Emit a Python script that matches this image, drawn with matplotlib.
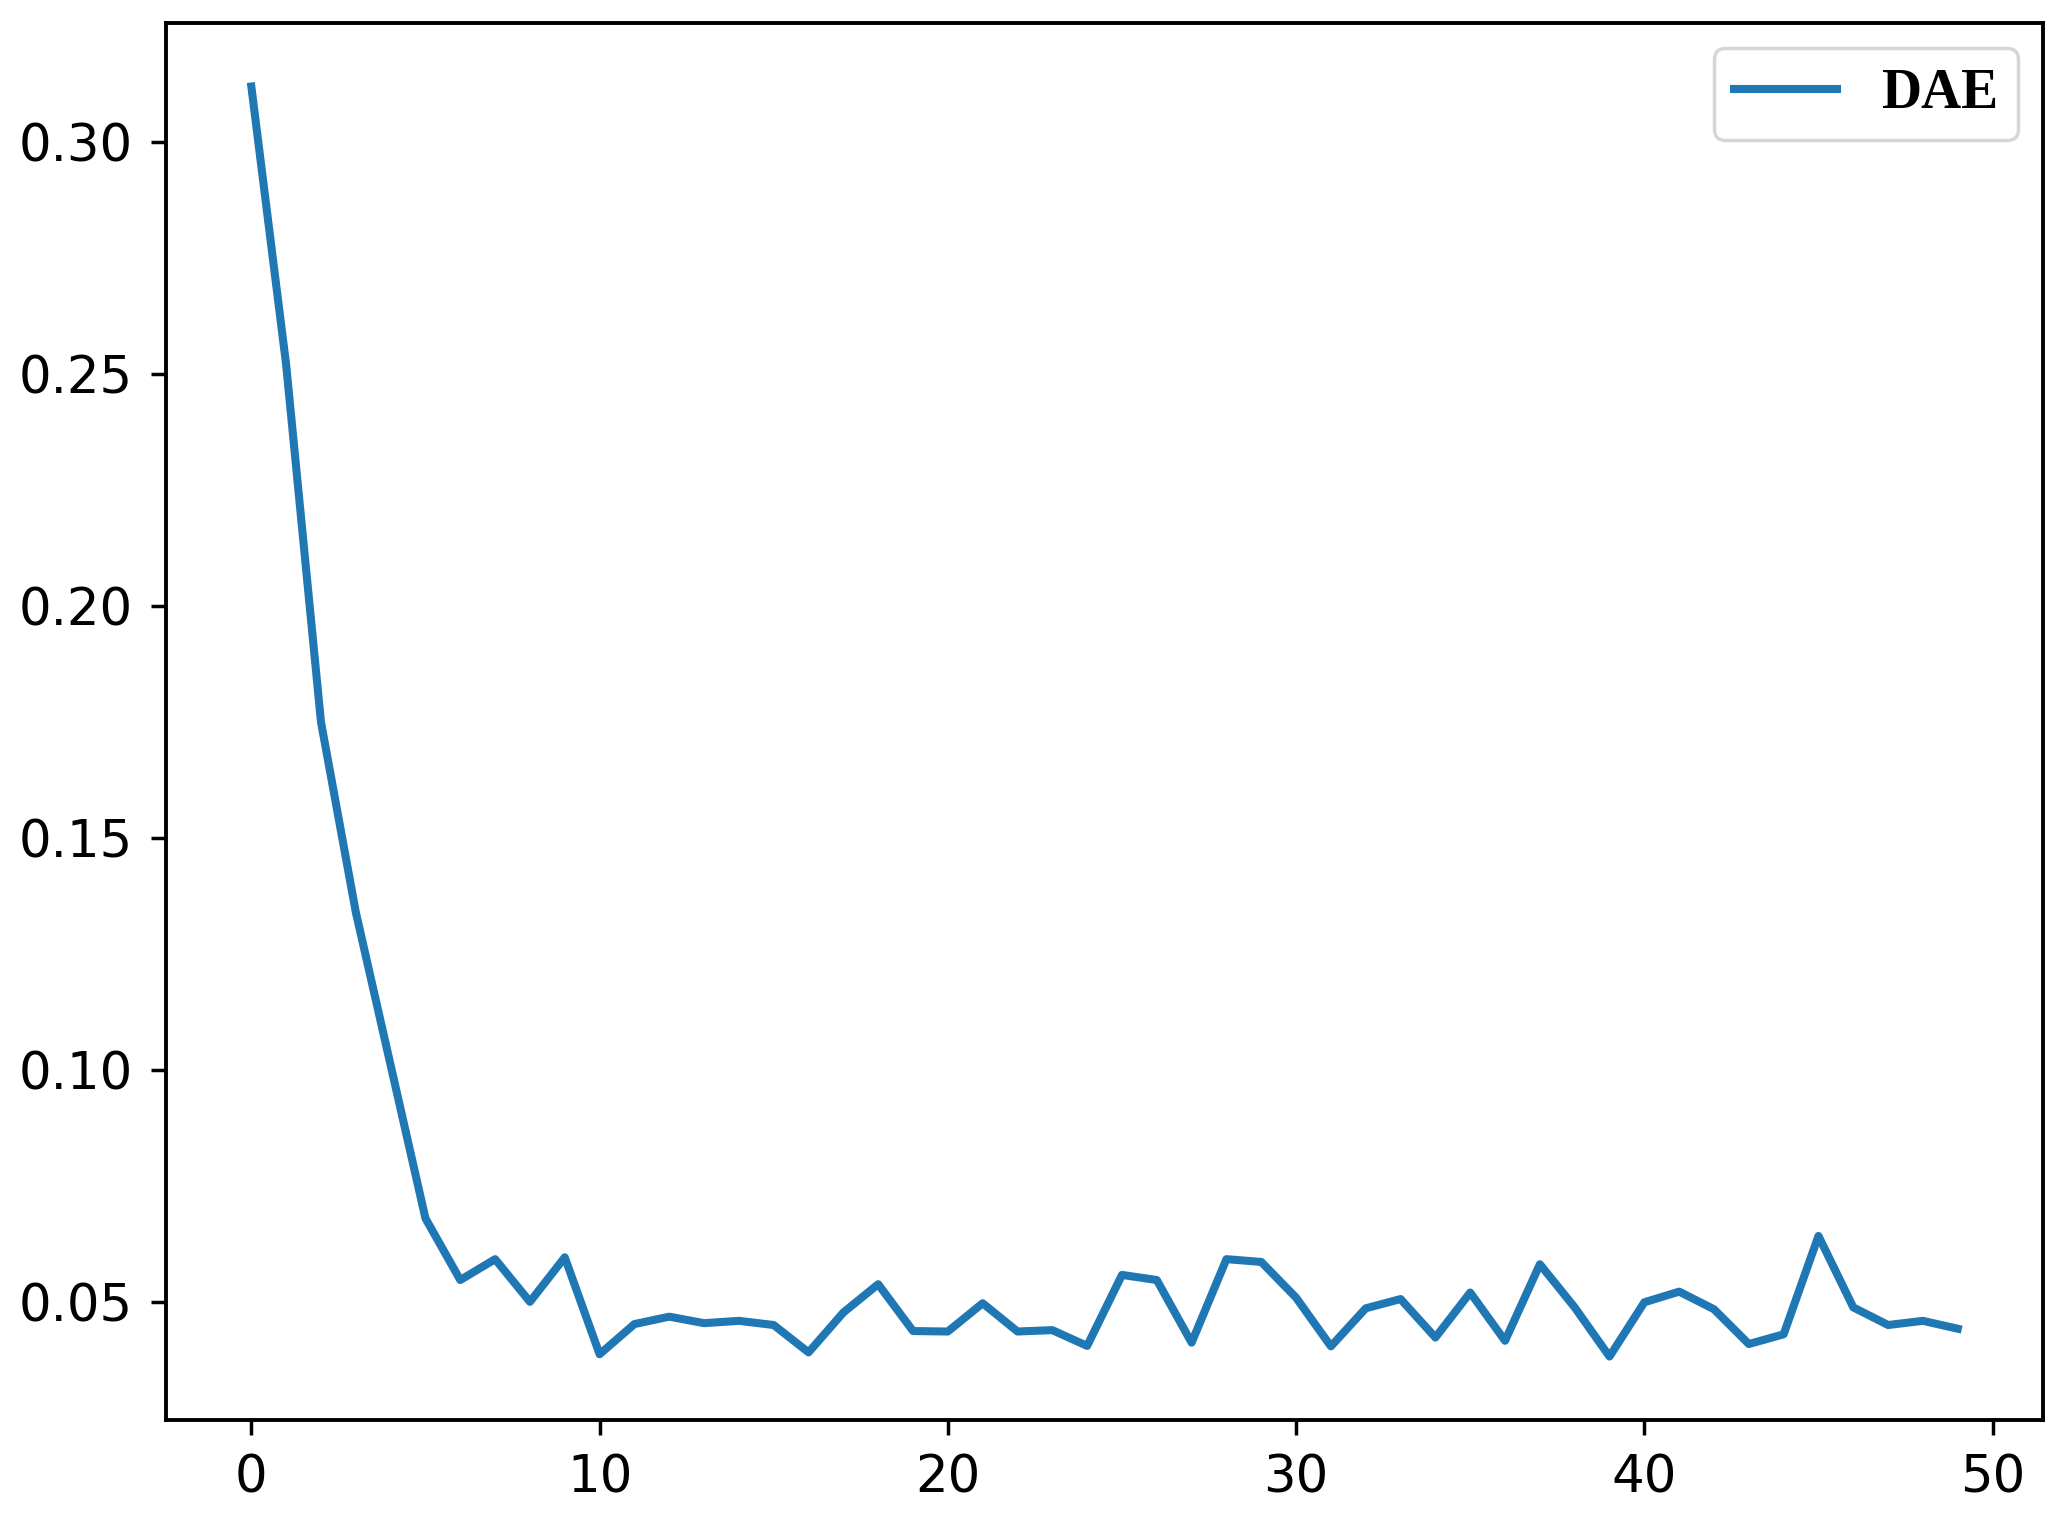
import matplotlib
matplotlib.use("Agg")
import matplotlib.pyplot as plt

epochs = list(range(50))
dae_loss = [0.312, 0.252, 0.175, 0.134, 0.101, 0.068, 0.0547, 0.0592, 0.0500, 0.0596,
            0.0387, 0.0452, 0.0468, 0.0454, 0.0459, 0.0450, 0.0391, 0.0477, 0.0538, 0.0437,
            0.0436, 0.0497, 0.0436, 0.0439, 0.0405, 0.0558, 0.0547, 0.0412, 0.0592, 0.0586,
            0.0509, 0.0404, 0.0486, 0.0506, 0.0423, 0.0520, 0.0416, 0.0581, 0.0488, 0.0382,
            0.0499, 0.0522, 0.0484, 0.0409, 0.0430, 0.0642, 0.0488, 0.0450, 0.0459, 0.0442]
series_label = "DAE"
xticks = [0, 10, 20, 30, 40, 50]
yticks = [0.05, 0.10, 0.15, 0.20, 0.25, 0.30]

fig = plt.figure(figsize=(20.7, 15.24), dpi=100)
ax = fig.add_axes([0.0802, 0.0682, 0.987 - 0.0802, 0.9849 - 0.0682])
ax.plot(epochs, dae_loss, color="#1f77b4", linewidth=5.8, label=series_label)
ax.set_xticks(xticks)
ax.set_yticks(yticks)
ax.set_yticklabels([f"{v:.2f}" for v in yticks])
ax.tick_params(axis="both", labelsize=37, length=11, width=2.5, pad=13)
for s in ax.spines.values():
    s.set_linewidth(2.8)
leg = ax.legend(loc="upper right",
                prop={"family": "Liberation Serif", "size": 40, "weight": "bold"},
                handlelength=1.85, handletextpad=0.8, borderaxespad=0.45,
                borderpad=0.36, fancybox=True, framealpha=0.8)
leg.get_frame().set_linewidth(2.5)
fig.savefig("out.png", dpi=100)
